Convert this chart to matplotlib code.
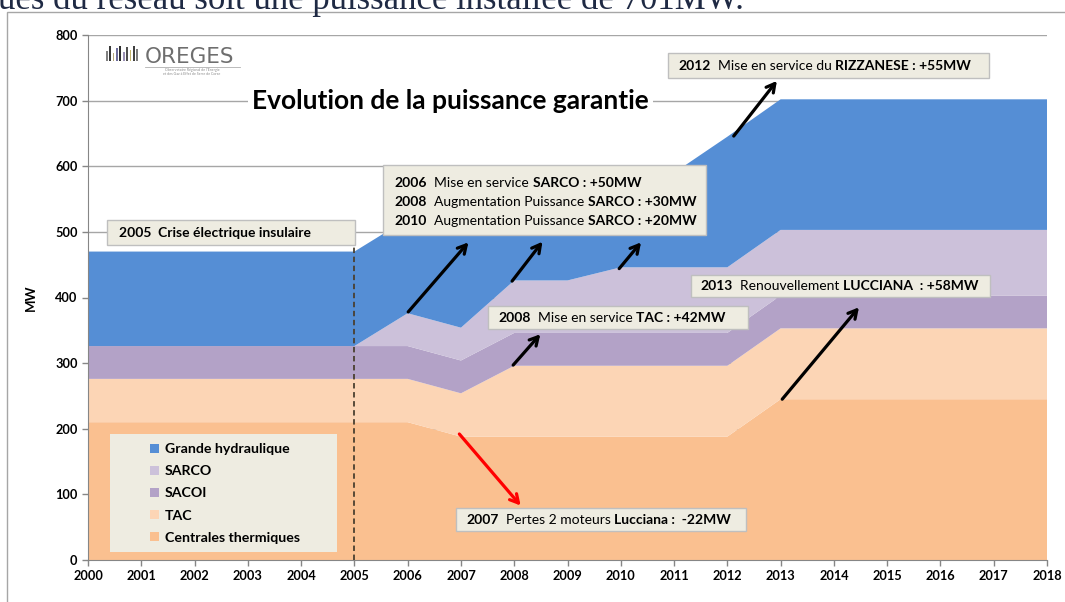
import matplotlib
matplotlib.use('Agg')
import matplotlib.pyplot as plt
from matplotlib.patches import Patch, Rectangle

plt.rcParams['font.family'] = ['Lato', 'DejaVu Sans']

# ---- data (MW) ----
years = [2000, 2001, 2002, 2003, 2004, 2005, 2006, 2007, 2008, 2009,
         2010, 2011, 2012, 2013, 2014, 2015, 2016, 2017, 2018]
thermiques = [210, 210, 210, 210, 210, 210, 210, 188, 188, 188,
              188, 188, 188, 245, 245, 245, 245, 245, 245]
tac = [66, 66, 66, 66, 66, 66, 66, 66, 108, 108,
       108, 108, 108, 108, 108, 108, 108, 108, 108]
sacoi = [50, 50, 50, 50, 50, 50, 50, 50, 50, 50,
         50, 50, 50, 50, 50, 50, 50, 50, 50]
sarco = [0, 0, 0, 0, 0, 0, 50, 50, 80, 80,
         100, 100, 100, 100, 100, 100, 100, 100, 100]
hydro = [144, 144, 144, 144, 144, 144, 144, 144, 144, 144,
         144, 144, 199, 199, 199, 199, 199, 199, 199]

series_labels = ['Centrales thermiques', 'TAC', 'SACOI', 'SARCO', 'Grande hydraulique']
colors = ['#FAC090', '#FCD5B5', '#B3A2C7', '#CCC1DA', '#558ED5']
yticks = [0, 100, 200, 300, 400, 500, 600, 700, 800]

BOX_FC = '#EEECE1'
BOX_EC = '#BFBFBF'

fig = plt.figure(figsize=(10.65, 6.02), dpi=100)
ax = fig.add_axes([88 / 1065, 42 / 602, 959 / 1065, 525 / 602])

# outer frame of the pasted picture + cut sentence on top
fig.patches.append(Rectangle((7 / 1065, -0.05), 1.2, 1 - 12 / 602 + 0.05,
                             transform=fig.transFigure, fill=False,
                             edgecolor='#A6A6A6', lw=1))
fig.text(-2 / 1065, 1 - 9 / 602, "ues du réseau soit une puissance installée de 701MW.",
         ha='left', va='baseline', fontsize=25, family='Liberation Serif',
         color='#1F2A44')

# ---- stacked areas ----
ax.stackplot(years, thermiques, tac, sacoi, sarco, hydro,
             colors=colors, linewidth=0, zorder=2)

ax.set_xlim(2000, 2018)
ax.set_ylim(0, 800)
ax.set_xticks(years)
ax.set_yticks(yticks)
ax.tick_params(axis='both', labelsize=9.2, colors='#868686', length=4, width=1)
for lab in ax.get_xticklabels() + ax.get_yticklabels():
    lab.set_fontweight('bold')
    lab.set_color('black')
ax.grid(axis='y', color='#A6A6A6', lw=1, zorder=0)
ax.set_axisbelow(True)
for s in ['top', 'right']:
    ax.spines[s].set_visible(False)
for s in ['left', 'bottom']:
    ax.spines[s].set_color('#868686')
ax.set_ylabel('MW', fontsize=9.5, fontweight='bold', labelpad=13)

# dashed line 2005
ax.plot([2005, 2005], [0, 480], ls=(0, (3, 2)), color='#4A4030', lw=1.3, zorder=4)

# ---- legend ----
ax.add_patch(Rectangle((2000.41, 12), 4.26, 180, facecolor=BOX_FC, edgecolor='none', zorder=5))
handles = [Patch(facecolor=colors[i], edgecolor='none', label=series_labels[i])
           for i in [4, 3, 2, 1, 0]]
leg = ax.legend(handles=handles, loc='upper left',
                bbox_to_anchor=((143 - 88) / 959, (560 - 436) / 525),
                frameon=False, handlelength=0.62, handleheight=0.62,
                handletextpad=0.4, labelspacing=0.72, borderpad=0,
                prop={'size': 10.2, 'weight': 'bold'})
leg.set_zorder(6)

# ---- title ----
ax.text(2006.81, 700, 'Evolution de la puissance garantie', ha='center', va='center',
        fontsize=19, fontweight='bold', zorder=6,
        bbox=dict(facecolor='white', edgecolor='none', pad=3))

# ---- logo ----
lax = fig.add_axes([105 / 1065, 1 - 61 / 602, 34 / 1065, 15 / 602])
lax.bar(range(10), [0.7, 1, 0.55, 0.9, 1, 0.6, 0.95, 0.75, 1, 0.8], width=0.55,
        color=['#808080', '#3a3a3a', '#b6a77a', '#6d6d9a', '#2f2f2f',
               '#9a8fb5', '#505050', '#c2b36b', '#404040', '#7c7c7c'])
lax.set_xlim(-0.5, 9.5)
lax.set_ylim(0, 1)
lax.axis('off')
fig.text(145 / 1065, 1 - 63 / 602, 'OREGES', fontsize=15.5, color='#6E6E6E',
         family='DejaVu Sans', ha='left', va='baseline')
fig.lines.append(plt.Line2D([145 / 1065, 240 / 1065], [1 - 67 / 602, 1 - 67 / 602],
                            transform=fig.transFigure, color='#B0B0B0', lw=0.6))
fig.text(192 / 1065, 1 - 72 / 602,
         "Observatoire Régional de l'Energie\net des Gaz à Effet de Serre de Corse",
         fontsize=2.6, color='#8C8C8C', ha='center', va='center', linespacing=1.1)

# ---- annotation boxes with mixed weights ----
fig.canvas.draw()


def rich(x, y, parts, size=10):
    t = ax.text(x, y, parts[0][0], fontsize=size, fontweight=parts[0][1],
                ha='left', va='center', zorder=8)
    for s, w in parts[1:]:
        t = ax.annotate(s, xy=(1, 0), xycoords=t, xytext=(0, 0),
                        textcoords='offset points', ha='left', va='bottom',
                        fontsize=size, fontweight=w, zorder=8)
    return t


def box(x0, x1, y0, y1):
    ax.add_patch(Rectangle((x0, y0), x1 - x0, y1 - y0, facecolor=BOX_FC,
                           edgecolor=BOX_EC, lw=1, zorder=7))


box(2000.36, 2005.01, 480, 518)
rich(2000.58, 499, [('2005  Crise électrique insulaire', 'bold')])

box(2005.54, 2011.6, 495, 602)
rich(2005.76, 575, [('2006', 'bold'), ('  Mise en service ', 'normal'), ('SARCO : +50MW', 'bold')])
rich(2005.76, 546, [('2008', 'bold'), ('  Augmentation Puissance ', 'normal'), ('SARCO : +30MW', 'bold')])
rich(2005.76, 517, [('2010', 'bold'), ('  Augmentation Puissance ', 'normal'), ('SARCO : +20MW', 'bold')])

box(2010.89, 2016.91, 734.5, 772.6)
rich(2011.08, 753, [('2012', 'bold'), ('  Mise en service du ', 'normal'), ('RIZZANESE : +55MW', 'bold')])

box(2011.32, 2016.93, 401, 434)
rich(2011.5, 417, [('2013', 'bold'), ('  Renouvellement ', 'normal'), ('LUCCIANA  : +58MW', 'bold')])

box(2007.51, 2012.39, 352, 387)
rich(2007.7, 369, [('2008', 'bold'), ('  Mise en service ', 'normal'), ('TAC : +42MW', 'bold')])

box(2006.91, 2012.35, 44, 79)
rich(2007.1, 61, [('2007', 'bold'), ('  Pertes 2 moteurs ', 'normal'), ('Lucciana :  -22MW', 'bold')])

# ---- arrows ----
arrows = [((2006.01, 378), (2007.14, 484), 'black'),
          ((2007.96, 425), (2008.53, 485), 'black'),
          ((2009.97, 444), (2010.38, 484), 'black'),
          ((2012.12, 646), (2012.93, 730), 'black'),
          ((2007.98, 297), (2008.49, 344), 'black'),
          ((2013.03, 245), (2014.47, 385), 'black'),
          ((2006.97, 192), (2008.12, 83), 'red')]
for start, end, c in arrows:
    ax.annotate('', xy=end, xytext=start, zorder=9,
                arrowprops=dict(arrowstyle='->,head_length=0.6,head_width=0.33',
                                color=c, lw=2.3, shrinkA=0, shrinkB=0))

fig.savefig('out.png', dpi=100)
